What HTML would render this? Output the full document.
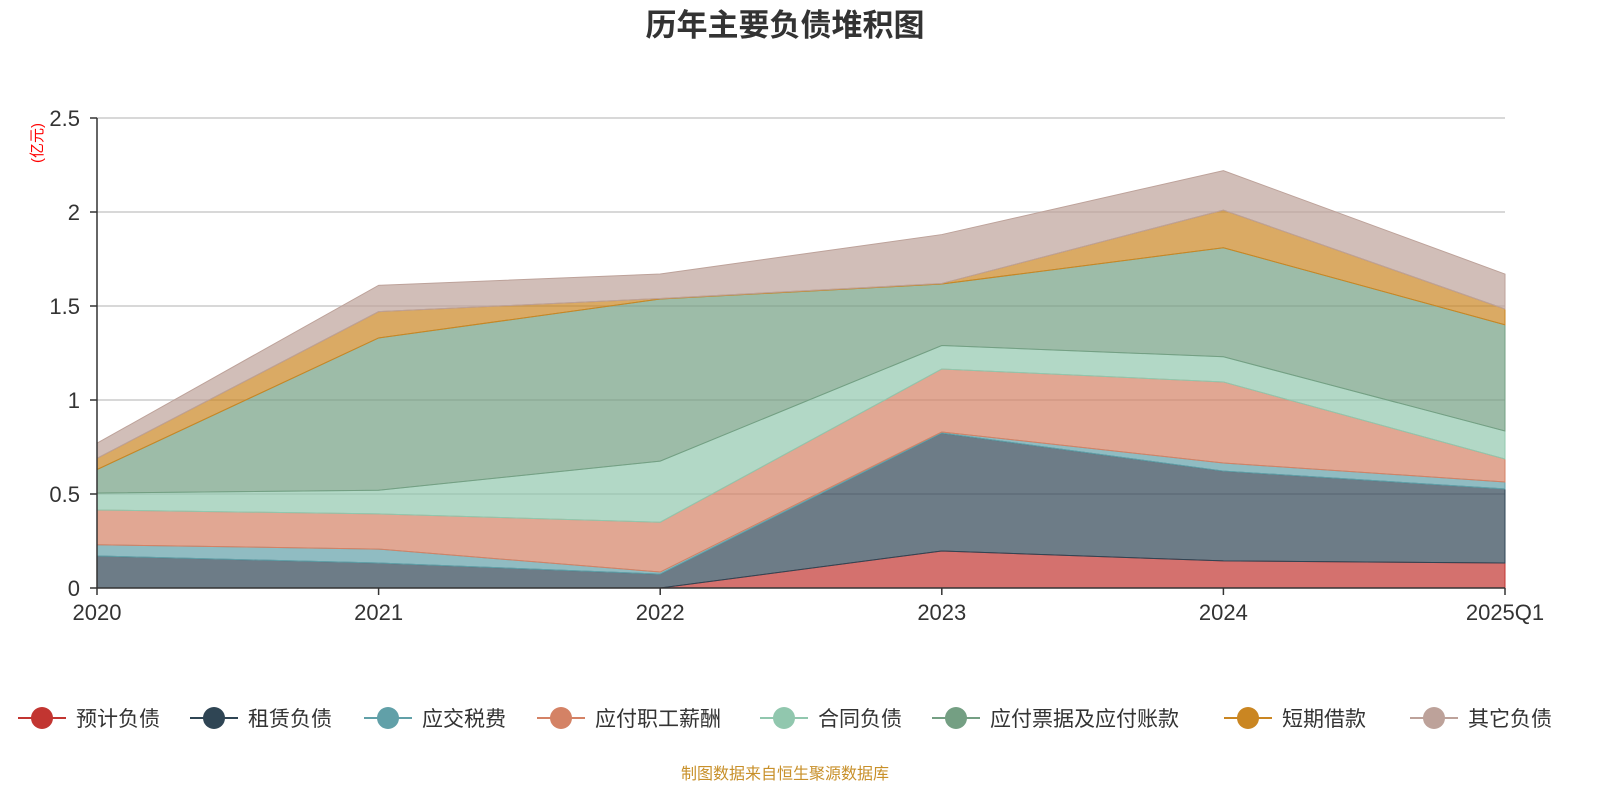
<!DOCTYPE html>
<html><head><meta charset="utf-8"><style>
body{margin:0;background:#fff;font-family:"Liberation Sans","Noto Sans CJK SC",sans-serif}
</style></head><body>
<svg id="chart" width="1600" height="800" xmlns="http://www.w3.org/2000/svg" font-family="Liberation Sans, Noto Sans CJK SC, sans-serif">
<text x="785" y="36" text-anchor="middle" font-size="31" font-weight="bold" fill="#333">历年主要负债堆积图</text>
<text transform="translate(42,143) rotate(-90)" text-anchor="middle" font-size="15" fill="#f00">(亿元)</text>
<g id="grid"></g><g id="areas"></g><g id="axes"></g><g id="legend"></g>
<text x="785" y="779" text-anchor="middle" font-size="16" fill="#c8902a">制图数据来自恒生聚源数据库</text>
</svg>
<script>
const categories=["2020","2021","2022","2023","2024","2025Q1"];
const seriesNames=["预计负债","租赁负债","应交税费","应付职工薪酬","合同负债","应付票据及应付账款","短期借款","其它负债"];
const s0=[0,0,0,0.197,0.144,0.133];
const s1=[0.17,0.133,0.074,0.627,0.478,0.394];
const s2=[0.06,0.074,0.011,0.006,0.043,0.037];
const s3=[0.185,0.187,0.265,0.335,0.431,0.122];
const s4=[0.09,0.126,0.325,0.125,0.134,0.149];
const s5=[0.125,0.81,0.862,0.327,0.58,0.565];
const s6=[0.06,0.14,0.003,0.003,0.2,0.084];
const s7=[0.08,0.14,0.13,0.26,0.21,0.186];
const yTicks=[0,0.5,1,1.5,2,2.5];
const yTickLabels=["0","0.5","1","1.5","2","2.5"];
const series=[s0,s1,s2,s3,s4,s5,s6,s7];
const colors=["#c23531","#2f4554","#61a0a8","#d48265","#91c7ae","#749f83","#ca8622","#bda29a"];
const NS="http://www.w3.org/2000/svg";
const X0=97,X1=1505,Y0=588,Y1=118,YMAX=2.5;
const x=i=>X0+(X1-X0)*i/(categories.length-1);
const y=v=>Y0-(Y0-Y1)*v/YMAX;
function mk(t,a,p){const e=document.createElementNS(NS,t);for(const k in a)e.setAttribute(k,a[k]);p.appendChild(e);return e;}
const grid=document.getElementById('grid'),areas=document.getElementById('areas'),axes=document.getElementById('axes'),legend=document.getElementById('legend');
yTicks.forEach((t,i)=>{
 if(t>0){const g=mk('line',{x1:X0,x2:X1,y1:y(t),y2:y(t),stroke:'#ccc','stroke-width':1.5},grid);
 
 }
 const tk=mk('line',{x1:X0-7,x2:X0,y1:y(t),y2:y(t),stroke:'#333','stroke-width':1.5},axes);
 
 
 const tx=mk('text',{x:X0-17,y:y(t)+8,'text-anchor':'end','font-size':22,fill:'#333'},axes);tx.textContent=yTickLabels[i];
 
 
});
let base=categories.map(()=>0);
series.forEach((s,k)=>{
 const top=base.map((b,i)=>b+s[i]);
 let d='M'+top.map((v,i)=>x(i)+','+y(v)).join('L');
 for(let i=categories.length-1;i>=0;i--)d+='L'+x(i)+','+y(base[i]);
 const p=mk('path',{d:d+'Z',fill:colors[k],'fill-opacity':0.7,stroke:colors[k],'stroke-width':1},areas);
 
 
 base=top;
});
const ax=mk('line',{x1:X0,x2:X0,y1:Y1,y2:Y0,stroke:'#333','stroke-width':1.5},axes);


const xa=mk('line',{x1:X0,x2:X1,y1:Y0,y2:Y0,stroke:'#333','stroke-width':1.5},axes);


categories.forEach((c,i)=>{
 const tk=mk('line',{x1:x(i),x2:x(i),y1:Y0,y2:Y0+7,stroke:'#333','stroke-width':1.5},axes);
 
 
 const tx=mk('text',{x:x(i),y:Y0+32,'text-anchor':'middle','font-size':22,fill:'#333'},axes);tx.textContent=c;
 
 
});
const lx=[18,190,364,537,760,932,1224,1410];
seriesNames.forEach((n,k)=>{
 const g=mk('g',{},legend);
 
 
 mk('line',{x1:lx[k],x2:lx[k]+48,y1:718,y2:718,stroke:colors[k],'stroke-width':2},g);
 mk('circle',{cx:lx[k]+24,cy:718,r:11,fill:colors[k]},g);
 const t=mk('text',{x:lx[k]+58,y:726,'font-size':21,fill:'#333'},g);t.textContent=n;
});
</script>
</body></html>
